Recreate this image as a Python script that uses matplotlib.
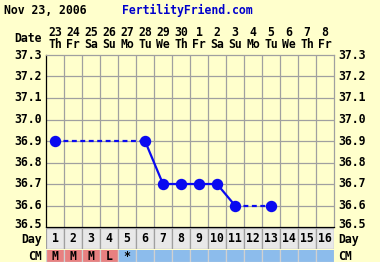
import matplotlib
matplotlib.use('Agg')
import matplotlib.pyplot as plt
from matplotlib.patches import Rectangle

# chart data
days = list(range(1, 17))
dates = ['23', '24', '25', '26', '27', '28', '29', '30', '1', '2', '3', '4', '5', '6', '7', '8']
weekdays = ['Th', 'Fr', 'Sa', 'Su', 'Mo', 'Tu', 'We', 'Th', 'Fr', 'Sa', 'Su', 'Mo', 'Tu', 'We', 'Th', 'Fr']
temp_days = [1, 6, 7, 8, 9, 10, 11, 13]
temps = [36.9, 36.9, 36.7, 36.7, 36.7, 36.7, 36.6, 36.6]
cm = ['M', 'M', 'M', 'L', '*', '', '', '', '', '', '', '', '', '', '', '']
yticks = [36.5, 36.6, 36.7, 36.8, 36.9, 37.0, 37.1, 37.2, 37.3]

bg = '#FFFFCC'
grid_c = '#A0A0A0'
blue = '#0A0AF0'
font = dict(family='DejaVu Sans Mono', fontweight='bold', fontsize=8.3)

W, H = 380, 262
fig = plt.figure(figsize=(W / 100, H / 100), dpi=100, facecolor=bg)

def fx(px):
    return px / W

def fy(py):
    return 1 - py / H

x0, x1 = 46, 334
ytop, ybot = 55, 227

ax = fig.add_axes([fx(x0), fy(ybot), fx(x1 - x0), fy(ytop) - fy(ybot)])
ax.set_facecolor(bg)
ax.set_xlim(0.5, 16.5)
ax.set_ylim(36.5, 37.3)
for d in range(1, 16):
    ax.axvline(d + 0.5, color=grid_c, lw=0.9, zorder=1)
for t in yticks[1:-1]:
    ax.axhline(t, color=grid_c, lw=0.9, zorder=1)
ax.set_xticks([])
ax.set_yticks([])
for s in ['top', 'right']:
    ax.spines[s].set_color(grid_c)
    ax.spines[s].set_linewidth(0.9)
for s in ['left', 'bottom']:
    ax.spines[s].set_color('black')
    ax.spines[s].set_linewidth(0.9)

# temperature line: solid between consecutive days, dashed across gaps
for i in range(len(temp_days) - 1):
    ls = '-' if temp_days[i + 1] - temp_days[i] == 1 else (0, (2.2, 1.6))
    ax.plot(temp_days[i:i + 2], temps[i:i + 2], color=blue, lw=1.6, ls=ls, zorder=3)
ax.plot(temp_days, temps, 'o', color=blue, ms=7.2, zorder=4)

# y labels both sides (bottom one nudged up, as in the original)
for t in yticks:
    y = fy(ybot) + (t - 36.5) / 0.8 * (fy(ytop) - fy(ybot))
    if t == 36.5:
        y += 3 / H
    fig.text(fx(42), y, '%.1f' % t, ha='right', va='center', **font)
    fig.text(fx(338), y, '%.1f' % t, ha='left', va='center', **font)

# header
fig.text(fx(4), fy(10), 'Nov 23, 2006', ha='left', va='center', **font)
fig.text(fx(122), fy(10), 'FertilityFriend.com', ha='left', va='center', color='#0000CC', **font)
fig.text(fx(42), fy(39), 'Date', ha='right', va='center', **font)
cw = (x1 - x0) / 16
for i in range(16):
    cx = x0 + cw * (i + 0.5)
    fig.text(fx(cx), fy(32), dates[i], ha='center', va='center', **font)
    fig.text(fx(cx), fy(45), weekdays[i], ha='center', va='center', **font)

# day row
dax = fig.add_axes([fx(x0), fy(249), fx(x1 - x0), fy(228) - fy(249)])
dax.set_xlim(0.5, 16.5)
dax.set_ylim(0, 1)
dax.axis('off')
for i, d in enumerate(days):
    dax.add_patch(Rectangle((d - 0.5, 0), 1, 1, facecolor='#E8E8E8', edgecolor='#A0A0A0', lw=0.9))
    dax.text(d, 0.5, str(d), ha='center', va='center', **font)
fig.text(fx(42), fy(240), 'Day', ha='right', va='center', **font)
fig.text(fx(338), fy(240), 'Day', ha='left', va='center', **font)

# cervical mucus row
cax = fig.add_axes([fx(x0), 0, fx(x1 - x0), fy(250)])
cax.set_xlim(0.5, 16.5)
cax.set_ylim(0, 1)
cax.axis('off')
for i, d in enumerate(days):
    fc = '#E88080' if cm[i] in ('M', 'L') else '#8CBCEC'
    cax.add_patch(Rectangle((d - 0.5, 0), 1, 1.2, facecolor=fc, edgecolor='#D0D0D0', lw=0.9))
    cax.text(d, 0.45, cm[i], ha='center', va='center', **font)
fig.text(fx(42), fy(256), 'CM', ha='right', va='center', **font)
fig.text(fx(338), fy(256), 'CM', ha='left', va='center', **font)

fig.savefig('out.png', dpi=100, facecolor=bg)
